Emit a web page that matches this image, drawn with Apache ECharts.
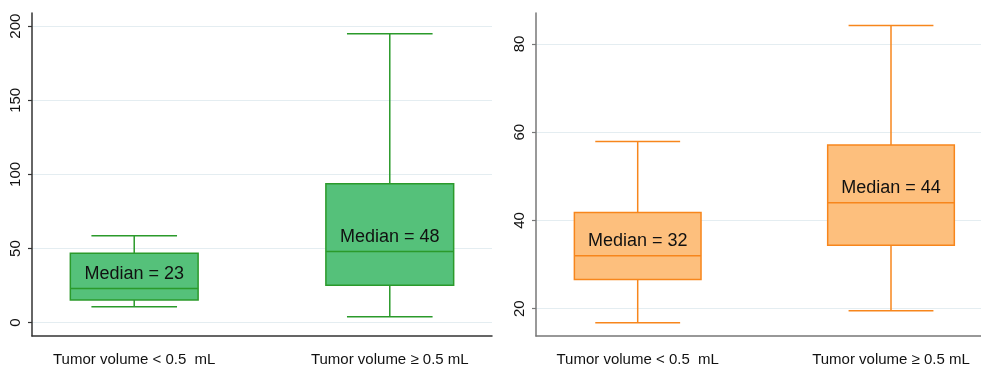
<!DOCTYPE html>
<html>
<head>
<meta charset="utf-8">
<script src="https://cdn.jsdelivr.net/npm/echarts@6/dist/echarts.min.js"></script>
<style>html,body{margin:0;padding:0;background:#fff;}#chart{width:981px;height:365px;}</style>
</head>
<body>
<div id="chart"></div>
<script>
var categories = ['Tumor volume < 0.5  mL', 'Tumor volume \u2265 0.5 mL'];
// [min, Q1, median, Q3, max]
var leftBoxes = [
  [10.8, 15.3, 23, 46.8, 58.7],
  [4.0, 25.2, 48, 93.8, 194.9]
];
var rightBoxes = [
  [16.8, 26.6, 32, 41.8, 57.9],
  [19.5, 34.4, 44, 57.1, 84.2]
];
var leftTicks = [0, 50, 100, 150, 200];
var rightTicks = [20, 40, 60, 80];

function toData(boxes) {
  return boxes.map(function (b, i) { return [i].concat(b); });
}

function makeRender(fill, stroke) {
  return function (params, api) {
    var x = api.value(0);
    var pMin = api.coord([x, api.value(1)]);
    var pQ1 = api.coord([x, api.value(2)]);
    var pMed = api.coord([x, api.value(3)]);
    var pQ3 = api.coord([x, api.value(4)]);
    var pMax = api.coord([x, api.value(5)]);
    var boxW = api.size([0.5, 0])[0];
    var capW = api.size([0.335, 0])[0];
    var cx = pMed[0];
    var ls = { stroke: stroke, lineWidth: 1.5 };
    return {
      type: 'group',
      children: [
        { type: 'line', shape: { x1: cx, y1: pQ3[1], x2: cx, y2: pMax[1] }, style: ls },
        { type: 'line', shape: { x1: cx, y1: pQ1[1], x2: cx, y2: pMin[1] }, style: ls },
        { type: 'line', shape: { x1: cx - capW / 2, y1: pMax[1], x2: cx + capW / 2, y2: pMax[1] }, style: ls },
        { type: 'line', shape: { x1: cx - capW / 2, y1: pMin[1], x2: cx + capW / 2, y2: pMin[1] }, style: ls },
        { type: 'rect', shape: { x: cx - boxW / 2, y: pQ3[1], width: boxW, height: pQ1[1] - pQ3[1] },
          style: { fill: fill, stroke: stroke, lineWidth: 1.5 } },
        { type: 'line', shape: { x1: cx - boxW / 2, y1: pMed[1], x2: cx + boxW / 2, y2: pMed[1] }, style: ls },
        { type: 'text', x: cx, y: pMed[1] - 6,
          style: { text: 'Median = ' + Math.round(api.value(3)), fill: '#111',
                   font: '18px "Liberation Sans", Arial, sans-serif',
                   align: 'center', verticalAlign: 'bottom' } }
      ]
    };
  };
}

function xAxisDef(gridIndex, min, max, color) {
  return {
    type: 'value', gridIndex: gridIndex, min: min, max: max,
    axisLine: { show: true, onZero: false, lineStyle: { color: color, width: 1.5 } },
    axisTick: { show: false },
    splitLine: { show: false },
    axisLabel: {
      customValues: [0, 1],
      formatter: function (v) { return categories[Math.round(v)] || ''; },
      color: '#111', fontSize: 15, margin: 16,
      fontFamily: '"Liberation Sans", Arial, sans-serif'
    }
  };
}
function yAxisDef(gridIndex, min, max, ticks, color) {
  return {
    type: 'value', gridIndex: gridIndex, min: min, max: max,
    axisLine: { show: true, onZero: false, lineStyle: { color: color, width: 1.5 } },
    axisTick: { show: true, customValues: ticks, length: 4, lineStyle: { color: color, width: 1.2 } },
    splitLine: { show: true, lineStyle: { color: '#e4edf1', width: 1.2 } },
    axisLabel: {
      customValues: ticks, rotate: 90, color: '#111', fontSize: 15, margin: 9,
      fontFamily: '"Liberation Sans", Arial, sans-serif'
    }
  };
}

var chart = echarts.init(document.getElementById('chart'), null, { renderer: 'canvas' });
chart.setOption({
  animation: false,
  backgroundColor: '#fff',
  grid: [
    { left: 32, top: 13, width: 460, height: 323, containLabel: false, outerBoundsMode: 'none' },
    { left: 536, top: 13, width: 445, height: 323, containLabel: false, outerBoundsMode: 'none' }
  ],
  xAxis: [
    xAxisDef(0, -0.4, 1.4, '#333'),
    xAxisDef(1, -0.4015, 1.3553, '#777')
  ],
  yAxis: [
    yAxisDef(0, -8.97, 208.9, leftTicks, '#333'),
    yAxisDef(1, 13.8, 87.03, rightTicks, '#777')
  ],
  series: [
    { type: 'custom', xAxisIndex: 0, yAxisIndex: 0, data: toData(leftBoxes),
      encode: { x: 0, y: [1, 2, 3, 4, 5] },
      renderItem: makeRender('#55c17a', '#2b9a2b') },
    { type: 'custom', xAxisIndex: 1, yAxisIndex: 1, data: toData(rightBoxes),
      encode: { x: 0, y: [1, 2, 3, 4, 5] },
      renderItem: makeRender('#fdbf7d', '#f7861c') }
  ]
});
</script>
</body>
</html>
